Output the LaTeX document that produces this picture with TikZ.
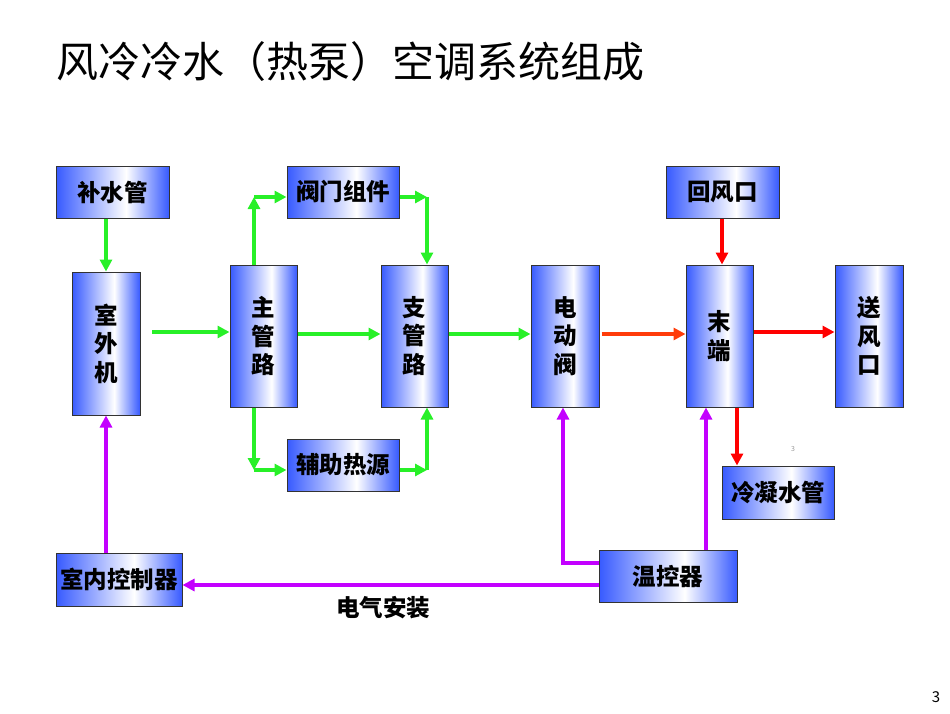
\documentclass[tikz,border=0pt]{standalone}
\usepackage{fontspec}
\setmainfont{Noto Sans CJK SC}
\usetikzlibrary{arrows.meta}
\definecolor{boxblue}{RGB}{55,90,255}
\definecolor{pipegreen}{RGB}{40,240,40}
\definecolor{airred}{RGB}{255,0,0}
\definecolor{valvered}{RGB}{255,60,10}
\definecolor{wirepurple}{RGB}{195,0,255}
\pgfdeclarehorizontalshading{boxshade}{100bp}{color(0bp)=(boxblue); color(25bp)=(boxblue); color(56bp)=(white); color(75bp)=(boxblue); color(100bp)=(boxblue)}
\tikzset{
  box/.style={draw=black!80, line width=1pt, shading=boxshade, inner sep=0pt,
    align=center, font=\bfseries\fontsize{23.5}{28.5}\selectfont},
  wide/.style={box, minimum width=112pt, minimum height=52pt},
  tall/.style={box, minimum width=67pt, minimum height=142pt},
  flow/.style={line width=3.5pt, -{Triangle[length=12pt,width=12pt]}},
  water/.style={flow, pipegreen},
  air/.style={flow, airred},
  wire/.style={flow, wirepurple},
}
\begin{document}
\begin{tikzpicture}[x=1pt,y=-1pt]
\useasboundingbox (0,0) rectangle (950,713);
% title
\node[anchor=west, font=\fontsize{42}{48}\selectfont] (title) at (53,62) {风冷冷水（热泵）空调系统组成};
% boxes
\node[wide, minimum width=113pt] (bushui) at (112.5,192) {补水管};
\node[tall, minimum width=68pt, minimum height=143pt] (shiwai) at (106,343.5) {室\\外\\机};
\node[tall] (zhuguan) at (263.5,336) {主\\管\\路};
\node[wide] (famen) at (343,192) {阀门组件};
\node[tall] (zhiguan) at (414.5,336) {支\\管\\路};
\node[wide] (fuzhu) at (343,465) {辅助热源};
\node[tall, minimum width=68pt] (diandong) at (565,336) {电\\动\\阀};
\node[wide, minimum width=113pt] (huifeng) at (722.5,192) {回风口};
\node[tall] (moduan) at (719.5,336) {末\\端};
\node[tall, minimum width=68pt] (songfeng) at (869,336) {送\\风\\口};
\node[wide, minimum height=53pt] (lengning) at (778,492.5) {冷凝水管};
\node[wide, minimum width=126pt, minimum height=53pt] (shinei) at (119,579.5) {室内控制器};
\node[wide, minimum width=138pt] (wenkong) at (668,576) {温控器};
% water side
\coordinate (start) at (152,332);
\coordinate (uptop) at (254,197);
\coordinate (downbot) at (254,470);
\coordinate (intop) at (427,197);
\coordinate (inbot) at (427,470);
\draw[water] (shiwai.north |- bushui.south) -- (shiwai.north);
\draw[water] (start) -- (start -| zhuguan.west);
\draw[water] (uptop |- zhuguan.north) -- (uptop);
\draw[water] (uptop) -- (uptop -| famen.west);
\draw[water] (downbot |- zhuguan.south) -- (downbot);
\draw[water] (downbot) -- (downbot -| fuzhu.west);
\draw[water] (famen.east |- intop) -- (intop);
\draw[water] (intop) -- (intop |- zhiguan.north);
\draw[water] (fuzhu.east |- inbot) -- (inbot);
\draw[water] (inbot) -- (inbot |- zhiguan.south);
\draw[water] ([yshift=2pt]zhuguan.east) -- ([yshift=2pt]zhiguan.west);
\draw[water] ([yshift=2pt]zhiguan.east) -- ([yshift=2pt]diandong.west);
% air side
\draw[flow, valvered] ([xshift=2pt,yshift=2pt]diandong.east) -- ([yshift=2pt]moduan.west);
\draw[air] ([xshift=2.5pt]moduan.north |- huifeng.south) -- ([xshift=2.5pt]moduan.north);
\draw[air] ([yshift=4pt]moduan.east) -- ([yshift=4pt]songfeng.west);
\draw[air] ([xshift=17.5pt]moduan.south) -- ([xshift=17.5pt]moduan.south |- lengning.north);
% control wiring
\coordinate (bend) at (563,563);
\draw[wire] (shinei.north -| shiwai.south) -- (shiwai.south);
\draw[wire] ([yshift=-9pt]wenkong.west) -- ([yshift=-9pt]wenkong.west -| shinei.east);
\draw[wire] (wenkong.west |- bend) -- (bend) -- (bend |- diandong.south);
\draw[wire] ([xshift=-13.5pt]moduan.south |- wenkong.north) -- ([xshift=-13.5pt]moduan.south);
\node[font=\bfseries\fontsize{23.5}{28}\selectfont] (dianqi) at (383,608) {电气安装};
% page marks
\node[font=\fontsize{7}{8}\selectfont, text=black!40] (mark) at (793,449) {3};
\node[font=\fontsize{15}{18}\selectfont] (page) at (936,697) {3};
\end{tikzpicture}
\end{document}
